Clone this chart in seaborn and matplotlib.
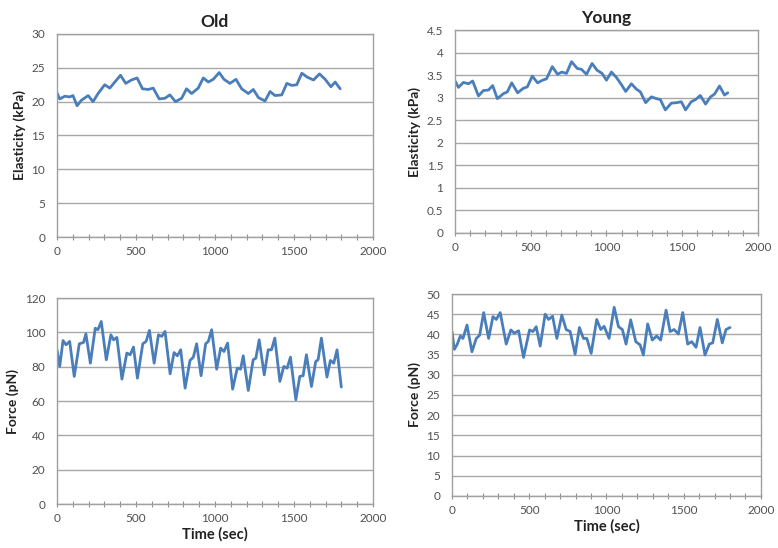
import numpy as np
import pandas as pd
import matplotlib.pyplot as plt
import seaborn as sns
from matplotlib.ticker import MultipleLocator

sns.set_style('white')
plt.rcParams['font.family'] = ['Lato', 'DejaVu Sans']

# old - elasticity (kPa)
old_el_t = [0, 17, 49, 80, 101, 127, 154, 197, 228, 260, 302, 334, 366, 402, 435, 471, 507,
            541, 577, 609, 647, 683, 715, 750, 789, 820, 852, 894, 926, 958, 989, 1027, 1057,
            1095, 1133, 1169, 1211, 1243, 1275, 1317, 1349, 1380, 1423, 1455, 1486, 1518, 1550,
            1586, 1624, 1662, 1698, 1734, 1761, 1793]
old_el = [21.3, 20.4, 20.8, 20.7, 20.9, 19.4, 20.2, 20.9, 20.0, 21.2, 22.5, 22.0, 22.9, 23.9,
          22.7, 23.2, 23.5, 21.9, 21.8, 22.0, 20.4, 20.5, 21.0, 20.0, 20.5, 21.9, 21.2, 22.0,
          23.5, 22.9, 23.3, 24.3, 23.3, 22.7, 23.3, 21.9, 21.2, 21.8, 20.6, 20.1, 21.5, 20.9,
          21.0, 22.7, 22.4, 22.5, 24.2, 23.6, 23.2, 24.1, 23.3, 22.2, 22.9, 21.9]

# young - elasticity (kPa)
young_el_t = [0, 22, 55, 88, 116, 154, 187, 220, 248, 279, 319, 345, 374, 413, 451, 477, 510,
              545, 578, 604, 642, 677, 705, 736, 769, 807, 835, 868, 905, 938, 971, 1000, 1033,
              1066, 1099, 1127, 1165, 1198, 1224, 1259, 1297, 1330, 1356, 1389, 1429, 1462, 1495,
              1523, 1560, 1589, 1620, 1655, 1688, 1714, 1747, 1780, 1802]
young_el = [3.37, 3.23, 3.34, 3.31, 3.37, 3.04, 3.16, 3.17, 3.27, 2.98, 3.09, 3.13, 3.33, 3.11,
            3.21, 3.24, 3.48, 3.33, 3.39, 3.42, 3.69, 3.52, 3.57, 3.54, 3.80, 3.65, 3.63, 3.52,
            3.76, 3.61, 3.54, 3.39, 3.57, 3.45, 3.29, 3.14, 3.31, 3.19, 3.13, 2.89, 3.02, 2.98,
            2.96, 2.73, 2.88, 2.89, 2.91, 2.73, 2.91, 2.96, 3.05, 2.86, 3.02, 3.08, 3.26, 3.06,
            3.11]

# old - force (pN)
old_f_t = [0, 17, 38, 57, 80, 109, 141, 168, 183, 211, 242, 259, 280, 312, 341, 358, 379, 411,
           442, 463, 484, 509, 543, 564, 585, 615, 642, 663, 684, 716, 741, 762, 783, 811, 842,
           863, 884, 912, 941, 958, 979, 1011, 1036, 1057, 1080, 1112, 1141, 1162, 1179, 1211,
           1242, 1259, 1280, 1312, 1337, 1358, 1379, 1411, 1436, 1457, 1478, 1512, 1537, 1558,
           1579, 1611, 1638, 1653, 1674, 1709, 1731, 1752, 1773, 1800]
old_f = [89.9, 80.2, 95.3, 92.8, 94.8, 74.4, 93.4, 94.2, 99.2, 82.1, 102.5, 101.6, 106.4, 84.1,
         98.6, 95.7, 97.1, 72.8, 88.0, 87.0, 91.5, 73.4, 93.4, 94.8, 101.2, 82.1, 98.6, 97.7,
         100.6, 75.9, 88.3, 86.4, 89.9, 67.6, 83.7, 85.6, 93.4, 74.8, 93.4, 94.8, 101.6, 78.6,
         90.9, 88.9, 93.8, 67.0, 79.2, 78.6, 86.4, 66.2, 84.1, 85.0, 95.7, 75.3, 89.9, 89.9,
         96.7, 71.5, 80.2, 79.2, 85.6, 60.8, 74.4, 74.8, 87.0, 68.5, 83.1, 84.1, 96.7, 74.0,
         83.7, 82.1, 89.9, 68.2]

# young - force (pN)
young_f_t = [0, 15, 32, 54, 71, 97, 129, 157, 179, 205, 237, 265, 287, 312, 351, 381, 403, 431,
             463, 502, 524, 545, 571, 603, 625, 651, 679, 711, 739, 765, 797, 825, 851, 873, 901,
             937, 963, 985, 1017, 1050, 1078, 1103, 1127, 1157, 1190, 1218, 1239, 1267, 1297,
             1325, 1351, 1386, 1412, 1438, 1466, 1494, 1526, 1552, 1580, 1606, 1638, 1666, 1688,
             1718, 1750, 1774, 1800]
young_f = [40.7, 36.3, 37.4, 39.6, 39.0, 42.3, 35.7, 39.0, 39.8, 45.4, 39.0, 44.4, 43.7, 45.4,
           37.6, 41.1, 40.3, 40.9, 34.3, 41.1, 40.7, 41.9, 37.1, 45.0, 43.7, 44.5, 39.0, 44.8,
           41.2, 40.7, 35.1, 41.7, 39.0, 39.0, 35.3, 43.7, 41.2, 42.0, 39.0, 46.7, 41.9, 41.2,
           37.6, 43.6, 38.2, 37.4, 34.9, 42.6, 38.6, 39.6, 38.6, 46.0, 40.7, 41.2, 40.1, 45.4,
           37.6, 38.2, 36.8, 41.7, 34.9, 37.6, 37.9, 43.7, 37.9, 41.2, 41.7]

line_color = '#4A7EBB'
grid_color = '#a8a8a8'

fig = plt.figure(figsize=(7.78, 5.48), dpi=100)
ax1 = fig.add_axes([0.0733, 0.5675, 0.406, 0.3705])
ax2 = fig.add_axes([0.585, 0.575, 0.389, 0.370])
ax3 = fig.add_axes([0.0733, 0.080, 0.406, 0.376])
ax4 = fig.add_axes([0.581, 0.095, 0.397, 0.3685])


def panel(ax, t, v, ymax, ystep, ylabel, title=None, xlabel=None):
    df = pd.DataFrame({'t': t, 'v': v})
    sns.lineplot(data=df, x='t', y='v', ax=ax, color=line_color, linewidth=2.0)
    ax.set_xlim(0, 2000)
    ax.set_ylim(0, ymax)
    ax.xaxis.set_major_locator(MultipleLocator(500))
    ax.xaxis.set_minor_locator(MultipleLocator(100))
    ax.yaxis.set_major_locator(MultipleLocator(ystep))
    ax.grid(axis='y', color=grid_color, linewidth=1.0)
    ax.set_axisbelow(True)
    for s in ax.spines.values():
        s.set_color('#a0a0a0')
        s.set_linewidth(1.0)
    ax.tick_params(axis='x', which='both', direction='inout', length=5, width=0.8,
                   color='#909090', bottom=True, labelsize=8.5, labelcolor='#505050', pad=4)
    ax.tick_params(axis='y', left=False, labelsize=8.5, labelcolor='#505050', pad=5)
    ax.set_ylabel(ylabel, fontsize=10, fontweight='bold', color='#222222', labelpad=4)
    if xlabel:
        ax.set_xlabel(xlabel, fontsize=10.5, fontweight='bold', color='#222222', labelpad=2)
    else:
        ax.set_xlabel('')
    if title:
        ax.set_title(title, fontsize=12.5, fontweight='bold', color='#222222', pad=5)


panel(ax1, old_el_t, old_el, 30, 5, 'Elasticity (kPa)', title='Old')
panel(ax2, young_el_t, young_el, 4.5, 0.5, 'Elasticity (kPa)', title='Young')
panel(ax3, old_f_t, old_f, 120, 20, 'Force (pN)', xlabel='Time (sec)')
panel(ax4, young_f_t, young_f, 50, 5, 'Force (pN)', xlabel='Time (sec)')

ax2.yaxis.set_major_formatter(plt.FuncFormatter(lambda y, p: f'{y:g}'))

fig.savefig('out.png', dpi=100, facecolor='white')
